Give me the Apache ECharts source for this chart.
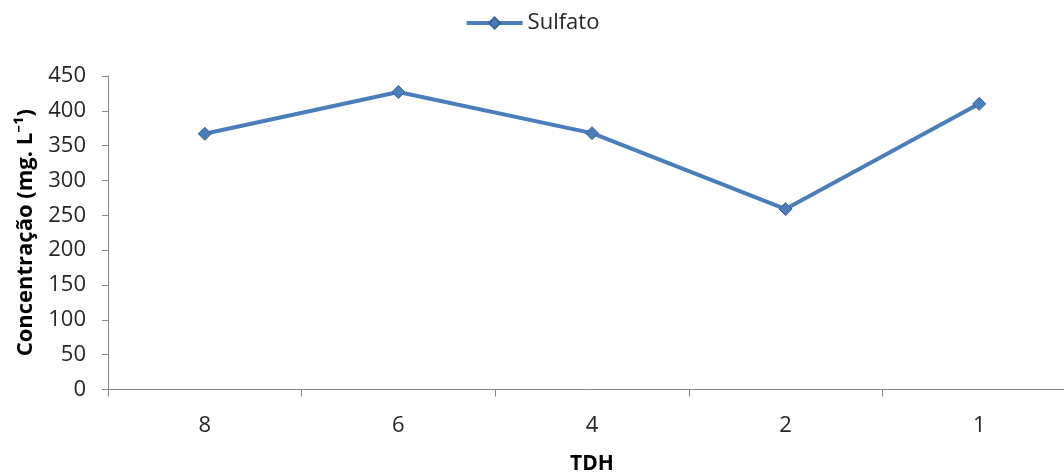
<!DOCTYPE html>
<html><head><meta charset="utf-8">
<script src="https://cdn.jsdelivr.net/npm/echarts@6/dist/echarts.min.js"></script>
<style>html,body{margin:0;padding:0;background:#fff}#c{width:1064px;height:474px}</style>
</head><body><div id="c"></div>
<script>
const categories = ['8', '6', '4', '2', '1'];
const sulfato = [367, 427, 368, 259, 410];
const yTicks = [0, 50, 100, 150, 200, 250, 300, 350, 400, 450];

const chart = echarts.init(document.getElementById('c'), null, {renderer: 'canvas'});
const font = '"Open Sans", "Noto Sans", sans-serif';
chart.setOption({
  animation: false,
  backgroundColor: '#fff',
  textStyle: {fontFamily: font},
  legend: {
    top: 7, left: 'center',
    itemWidth: 56, itemHeight: 14, itemGap: 6,
    lineStyle: {width: 4},
    textStyle: {fontSize: 22, color: '#262626', fontFamily: font},
    data: ['Sulfato']
  },
  grid: {left: 108, top: 76, width: 968, bottom: 84.5, outerBoundsMode: 'none', containLabel: false},
  xAxis: {
    type: 'category', data: categories, boundaryGap: true,
    name: 'TDH', nameLocation: 'middle', nameGap: 64,
    nameTextStyle: {fontSize: 21, fontWeight: 'bold', color: '#000', fontFamily: font},
    axisLine: {lineStyle: {color: '#868686', width: 1}},
    axisTick: {show: true, length: 7, lineStyle: {color: '#868686'}},
    axisLabel: {fontSize: 22, color: '#262626', margin: 25, fontFamily: font}
  },
  yAxis: {
    type: 'value', min: 0, max: 450, interval: 50,
    name: 'Concentração (mg. L⁻¹)', nameLocation: 'middle', nameGap: 71,
    nameTextStyle: {fontSize: 22, fontWeight: 'bold', color: '#000', fontFamily: font},
    axisLine: {show: true, lineStyle: {color: '#868686', width: 1}},
    axisTick: {show: true, length: 6, lineStyle: {color: '#868686'}},
    splitLine: {show: false},
    axisLabel: {fontSize: 22, color: '#262626', margin: 22, fontFamily: font,
      formatter: v => yTicks.includes(v) ? String(v) : ''}
  },
  series: [{
    name: 'Sulfato', type: 'line', data: sulfato,
    symbol: 'diamond', symbolSize: 13,
    lineStyle: {color: '#4a7ebb', width: 4},
    itemStyle: {color: '#4a7ebb', borderColor: '#3a6498', borderWidth: 1}
  }]
});
</script></body></html>
